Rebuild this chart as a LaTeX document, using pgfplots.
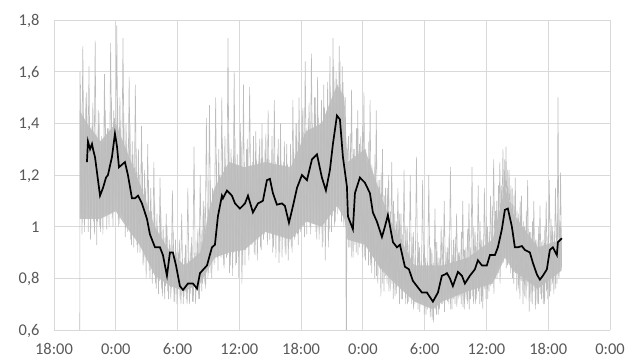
\documentclass[border=0pt]{standalone}
\usepackage{pgfplots}
\pgfplotsset{compat=1.18}
\usepackage{fontspec}
\setmainfont{Carlito}
\definecolor{gridc}{HTML}{D9D9D9}
\definecolor{labc}{HTML}{595959}
\definecolor{rawc}{HTML}{BDBDBD}
\definecolor{bandc}{HTML}{C4C4C4}
\begin{document}
\begin{tikzpicture}
\useasboundingbox (-54bp,-28bp) rectangle (581bp,330bp);
\begin{axis}[
  scale only axis,
  width=556bp, height=310bp,
  xmin=0, xmax=54, ymin=0.6, ymax=1.8,
  xtick={0,6,...,54},
  xticklabels={18:00,0:00,6:00,12:00,18:00,0:00,6:00,12:00,18:00,0:00},
  ytick={0.6,0.8,1.0,1.2,1.4,1.6,1.8},
  /pgf/number format/use comma,
  /pgf/number format/assume math mode=true,
  grid=major,
  major grid style={gridc, line width=0.8pt},
  axis line style={draw=none},
  tick style={draw=none},
  tick label style={font=\fontsize{16.5}{16.5}\selectfont, text=labc},
  xticklabel style={yshift=-10bp},
  yticklabel style={xshift=-11bp, yshift=-1bp},
]
% bottom axis line
\addplot[gridc, line width=0.9pt, forget plot] coordinates {(0,0.6) (54,0.6)};
% dense core of the raw series (upper edge forward, lower edge back)
\addplot[fill=bandc, draw=none, forget plot] coordinates {
(2.5,1.45) (3.2,1.40) (4.5,1.33) (6.0,1.40) (7.0,1.30) (8.3,1.17) (9.8,1.00)
(11.3,0.90) (12.7,0.85) (14.2,0.90) (15.6,1.15) (17.0,1.25) (18.5,1.23)
(20.5,1.25) (23.0,1.23) (24.5,1.37) (26.0,1.40) (27.5,1.55) (28.2,1.50)
(28.5,1.25) (30.2,1.30) (31.5,1.15) (32.6,1.03) (35.0,0.85) (36.8,0.85) (37.7,0.85)
(40.2,0.88) (42.6,0.95) (43.8,1.15) (44.6,1.05) (47.0,0.92) (49.3,0.95)
(49.3,0.83) (47.0,0.76) (44.6,0.83) (43.8,0.88) (42.6,0.78) (40.2,0.75)
(37.7,0.71) (36.8,0.68) (35.0,0.71) (32.6,0.80) (31.5,0.85) (30.2,0.93) (28.5,0.95)
(28.2,1.03) (27.5,1.08) (26.0,1.00) (24.5,1.02) (23.0,0.95) (20.5,0.98)
(18.5,0.91) (17.0,0.90) (15.6,0.88) (14.2,0.78) (12.7,0.75) (11.3,0.77)
(9.8,0.81) (8.3,0.93) (7.0,1.00) (6.0,1.06) (4.5,1.03) (3.2,1.03) (2.5,1.03)};
% raw series, medium swings
\addplot[rawc, line width=0.6pt, forget plot] coordinates {
(2.575,1.55) (2.725,0.97) (2.875,1.44) (3.025,1.03) (3.175,1.52) (3.325,0.98) (3.475,1.40) (3.625,1.04)
(3.775,1.48) (3.925,0.97) (4.075,1.36) (4.225,1.02) (4.375,1.44) (4.525,0.98) (4.675,1.33) (4.825,1.04)
(4.975,1.45) (5.125,0.99) (5.275,1.38) (5.425,1.05) (5.575,1.50) (5.725,1.00) (5.875,1.42) (6.025,1.06)
(6.175,1.50) (6.325,1.01) (6.475,1.38) (6.625,1.04) (6.775,1.44) (6.925,0.96) (7.075,1.32) (7.225,1.00)
(7.375,1.40) (7.525,0.93) (7.675,1.28) (7.825,0.96) (7.975,1.30) (8.125,0.90) (8.275,1.20) (8.425,0.92)
(8.575,1.25) (8.725,0.86) (8.875,1.15) (9.025,0.87) (9.175,1.18) (9.325,0.80) (9.475,1.06) (9.625,0.82)
(9.775,1.10) (9.925,0.76) (10.075,1.00) (10.225,0.79) (10.375,1.06) (10.525,0.73) (10.675,0.96) (10.825,0.77)
(10.975,1.00) (11.125,0.72) (11.275,0.93) (11.425,0.76) (11.575,0.98) (11.725,0.71) (11.875,0.90) (12.025,0.74)
(12.175,0.95) (12.325,0.70) (12.475,0.87) (12.625,0.73) (12.775,0.93) (12.925,0.70) (13.075,0.88) (13.225,0.74)
(13.375,0.96) (13.525,0.71) (13.675,0.90) (13.825,0.75) (13.975,0.99) (14.125,0.72) (14.275,0.97) (14.425,0.78)
(14.575,1.08) (14.725,0.76) (14.875,1.04) (15.025,0.82) (15.175,1.18) (15.325,0.80) (15.475,1.14) (15.625,0.86)
(15.775,1.26) (15.925,0.83) (16.075,1.20) (16.225,0.88) (16.375,1.32) (16.525,0.84) (16.675,1.24) (16.825,0.89)
(16.975,1.36) (17.125,0.85) (17.275,1.26) (17.425,0.90) (17.575,1.34) (17.725,0.86) (17.875,1.24) (18.025,0.90)
(18.175,1.33) (18.325,0.85) (18.475,1.25) (18.625,0.91) (18.775,1.34) (18.925,0.87) (19.075,1.24) (19.225,0.93)
(19.375,1.35) (19.525,0.89) (19.675,1.26) (19.825,0.95) (19.975,1.34) (20.125,0.91) (20.275,1.27) (20.425,0.97)
(20.575,1.36) (20.725,0.93) (20.875,1.26) (21.025,0.98) (21.175,1.35) (21.325,0.92) (21.475,1.25) (21.625,0.97)
(21.775,1.34) (21.925,0.90) (22.075,1.24) (22.225,0.95) (22.375,1.33) (22.525,0.89) (22.675,1.24) (22.825,0.94)
(22.975,1.32) (23.125,0.90) (23.275,1.30) (23.425,0.96) (23.575,1.40) (23.725,0.93) (23.875,1.34) (24.025,0.99)
(24.175,1.46) (24.325,0.96) (24.475,1.38) (24.625,1.02) (24.775,1.48) (24.925,0.97) (25.075,1.40) (25.225,1.01)
(25.375,1.50) (25.525,0.95) (25.675,1.42) (25.825,0.99) (25.975,1.49) (26.125,0.94) (26.275,1.46) (26.425,1.00)
(26.575,1.56) (26.725,0.98) (26.875,1.52) (27.025,1.04) (27.175,1.62) (27.325,1.02) (27.475,1.57) (27.625,1.08)
(27.775,1.64) (27.925,1.02) (28.075,1.56) (28.225,1.03) (28.475,1.30) (28.625,0.92) (28.775,1.36) (28.925,0.88)
(29.075,1.30) (29.225,0.93) (29.375,1.38) (29.525,0.89) (29.675,1.32) (29.825,0.94) (29.975,1.39) (30.125,0.88)
(30.275,1.30) (30.425,0.92) (30.575,1.33) (30.725,0.85) (30.875,1.24) (31.025,0.88) (31.175,1.28) (31.325,0.81)
(31.475,1.18) (31.625,0.84) (31.775,1.21) (31.925,0.78) (32.075,1.12) (32.225,0.81) (32.375,1.15) (32.525,0.75)
(32.675,1.06) (32.825,0.78) (32.975,1.10) (33.125,0.73) (33.275,1.02) (33.425,0.77) (33.575,1.05) (33.725,0.72)
(33.875,0.97) (34.025,0.75) (34.175,1.00) (34.325,0.70) (34.475,0.93) (34.625,0.73) (34.775,0.96) (34.925,0.68)
(35.075,0.89) (35.225,0.71) (35.375,0.94) (35.525,0.67) (35.675,0.87) (35.825,0.70) (35.975,0.93) (36.125,0.66)
(36.275,0.86) (36.425,0.69) (36.575,0.92) (36.725,0.64) (36.875,0.86) (37.025,0.68) (37.175,0.94) (37.325,0.66)
(37.475,0.88) (37.625,0.70) (37.775,0.96) (37.925,0.67) (38.075,0.90) (38.225,0.71) (38.375,0.97) (38.525,0.68)
(38.675,0.89) (38.825,0.72) (38.975,0.96) (39.125,0.69) (39.275,0.90) (39.425,0.73) (39.575,0.98) (39.725,0.69)
(39.875,0.91) (40.025,0.72) (40.175,0.99) (40.325,0.68) (40.475,0.92) (40.625,0.73) (40.775,1.00) (40.925,0.70)
(41.075,0.94) (41.225,0.75) (41.375,1.02) (41.525,0.71) (41.675,0.95) (41.825,0.76) (41.975,1.04) (42.125,0.72)
(42.275,0.98) (42.425,0.77) (42.575,1.08) (42.725,0.74) (42.875,1.06) (43.025,0.80) (43.175,1.16) (43.325,0.78)
(43.475,1.16) (43.625,0.86) (43.775,1.26) (43.925,0.84) (44.075,1.22) (44.225,0.87) (44.375,1.16) (44.525,0.80)
(44.675,1.12) (44.825,0.82) (44.975,1.06) (45.125,0.76) (45.275,1.10) (45.425,0.79) (45.575,1.02) (45.725,0.73)
(45.875,1.06) (46.025,0.77) (46.175,0.98) (46.325,0.71) (46.475,1.02) (46.625,0.75) (46.775,0.95) (46.925,0.70)
(47.075,1.00) (47.225,0.74) (47.375,0.94) (47.525,0.70) (47.675,1.00) (47.825,0.75) (47.975,0.96) (48.125,0.73)
(48.275,1.03) (48.425,0.78) (48.575,0.98) (48.725,0.76) (48.875,1.05) (49.025,0.81) (49.175,1.02) (49.300,0.84)
};
% raw series, large swings and spikes
\addplot[rawc, line width=0.6pt] coordinates {
(2.50,0.30) (2.52,1.60) (2.65,1.05)
(2.80,1.70) (2.95,0.98) (3.10,1.50) (3.25,1.10)
(3.40,1.62) (3.55,0.95) (3.70,1.40) (3.85,1.02) (4.00,1.72) (4.15,0.93) (4.30,1.45) (4.45,1.00)
(4.60,1.35) (4.75,0.97) (4.90,1.59) (5.05,1.05) (5.20,1.38) (5.35,1.00) (5.50,1.71) (5.65,1.03) (5.80,1.45) (5.95,1.08)
(6.10,1.78) (6.25,1.00) (6.40,1.50) (6.55,1.05) (6.70,1.73) (6.85,1.02)
(7.00,1.40) (7.15,0.98) (7.30,1.58) (7.45,0.95) (7.60,1.33) (7.75,0.92) (7.90,1.55) (8.05,0.93) (8.20,1.30) (8.35,0.90)
(8.50,1.39) (8.65,0.85) (8.80,1.22) (8.95,0.80) (9.10,1.32) (9.25,0.83) (9.40,1.15) (9.55,0.78) (9.70,1.25) (9.85,0.78)
(10.00,1.05) (10.15,0.74) (10.30,1.19) (10.45,0.76) (10.60,1.00) (10.75,0.72) (10.90,1.05) (11.05,0.75) (11.20,0.95) (11.35,0.72)
(11.50,1.14) (11.65,0.71) (11.80,0.95) (11.95,0.70) (12.10,0.90) (12.25,0.72) (12.40,1.05) (12.55,0.70) (12.70,0.88) (12.85,0.72)
(13.00,1.15) (13.15,0.70) (13.30,0.92) (13.45,0.71) (13.60,1.31) (13.75,0.70) (13.90,0.95) (14.05,0.72)
(14.20,1.20) (14.35,0.75) (14.50,1.10) (14.65,0.78) (14.80,1.42) (14.95,0.80) (15.10,1.47) (15.25,0.82) (15.40,1.15) (15.55,0.85)
(15.70,1.50) (15.85,0.88) (16.00,1.30) (16.15,0.90) (16.30,1.50) (16.45,0.85) (16.60,1.35) (16.75,0.88) (16.90,1.73) (17.05,0.82)
(17.20,1.30) (17.35,0.81) (17.50,1.60) (17.65,0.85) (17.80,1.28) (17.95,0.80) (18.10,1.40) (18.25,0.78) (18.40,1.55) (18.55,0.85)
(18.70,1.30) (18.85,0.92) (19.00,1.54) (19.15,0.95) (19.30,1.25) (19.45,0.90) (19.60,1.37) (19.75,0.87) (19.90,1.28) (20.05,0.92) (20.20,1.40) (20.35,0.95)
(20.50,1.30) (20.65,0.98) (20.80,1.45) (20.95,0.95) (21.10,1.25) (21.25,0.90) (21.40,1.49) (21.55,0.88) (21.70,1.28) (21.85,0.86)
(22.00,1.40) (22.15,0.88) (22.30,1.25) (22.45,0.90) (22.60,1.32) (22.75,0.87) (22.90,1.20) (23.05,0.92)
(23.20,1.49) (23.35,0.95) (23.50,1.40) (23.65,0.97) (23.80,1.50) (23.95,0.98) (24.10,1.45) (24.25,1.00) (24.40,1.64) (24.55,0.97)
(24.70,1.42) (24.85,1.00) (25.00,1.67) (25.15,1.02) (25.30,1.50) (25.45,0.98) (25.60,1.58) (25.75,0.95) (25.90,1.40) (26.05,0.92)
(26.20,1.55) (26.35,0.87) (26.50,1.45) (26.65,0.92) (26.80,1.66) (26.95,0.98) (27.10,1.73) (27.25,1.00) (27.40,1.60) (27.55,1.05)
(27.70,1.70) (27.85,1.08) (28.00,1.62) (28.15,1.00) (28.30,1.50) (28.40,0.30) (28.45,1.24)
(28.60,1.35) (28.75,0.92) (28.90,1.53) (29.05,0.88) (29.20,1.30) (29.35,0.90) (29.50,1.45) (29.65,0.92) (29.80,1.35) (29.95,0.88) (30.10,1.52) (30.25,0.87)
(30.40,1.25) (30.55,0.85) (30.70,1.49) (30.85,0.82) (31.00,1.20) (31.15,0.80) (31.30,1.45) (31.45,0.78) (31.60,1.18) (31.75,0.73)
(31.90,1.30) (32.05,0.75) (32.20,1.15) (32.35,0.78) (32.50,1.20) (32.65,0.75)
(32.80,1.25) (32.95,0.72) (33.10,1.05) (33.25,0.74) (33.40,1.15) (33.55,0.70) (33.70,1.05) (33.85,0.72) (34.00,1.22) (34.15,0.70)
(34.30,1.00) (34.45,0.71) (34.60,1.20) (34.75,0.70) (34.90,0.98) (35.05,0.70)
(35.20,1.27) (35.35,0.68) (35.50,0.92) (35.65,0.70) (35.80,1.18) (35.95,0.66) (36.10,0.88) (36.25,0.68) (36.40,1.20) (36.55,0.65)
(36.70,0.91) (36.85,0.63) (37.00,1.07) (37.15,0.66) (37.30,0.88) (37.45,0.68) (37.60,1.00) (37.75,0.70)
(37.90,1.10) (38.05,0.72) (38.20,0.92) (38.35,0.70) (38.50,1.23) (38.65,0.68) (38.80,0.95) (38.95,0.70) (39.10,1.05) (39.25,0.72)
(39.40,0.90) (39.55,0.70) (39.70,1.10) (39.85,0.68) (40.00,0.92) (40.15,0.70)
(40.30,1.09) (40.45,0.72) (40.60,1.23) (40.75,0.70) (40.90,0.98) (41.05,0.72) (41.20,1.16) (41.35,0.70) (41.50,0.95) (41.65,0.68)
(41.80,1.15) (41.95,0.72) (42.10,1.00) (42.25,0.75) (42.40,1.12) (42.55,0.78)
(42.70,1.26) (42.85,0.80) (43.00,1.10) (43.15,0.82) (43.30,1.25) (43.45,0.85) (43.60,1.30) (43.75,0.88) (43.90,1.31) (44.05,0.85)
(44.20,1.22) (44.35,0.82) (44.50,1.15) (44.65,0.78)
(44.80,1.19) (44.95,0.75) (45.10,1.05) (45.25,0.72) (45.40,1.12) (45.55,0.70) (45.70,1.00) (45.85,0.72) (46.00,1.18) (46.15,0.67)
(46.30,0.98) (46.45,0.70) (46.60,1.10) (46.75,0.68) (46.90,0.95) (47.05,0.70)
(47.20,1.08) (47.35,0.72) (47.50,0.95) (47.65,0.70) (47.80,1.10) (47.95,0.72) (48.10,1.18) (48.25,0.75) (48.40,1.00) (48.55,0.74)
(48.70,1.15) (48.85,0.78) (48.95,1.50) (49.05,0.80) (49.20,1.21) (49.30,0.85)
};
% smoothed series
\addplot[black, line width=1.7pt] coordinates {
(3.20,1.25) (3.30,1.33) (3.50,1.30) (3.69,1.32) (3.79,1.30) (3.98,1.27) (4.47,1.12) (4.76,1.15)
(5.05,1.19) (5.24,1.20) (5.63,1.27) (5.92,1.36) (6.12,1.31) (6.31,1.23) (6.60,1.24) (6.89,1.25)
(7.18,1.20) (7.57,1.11) (7.87,1.11) (8.16,1.12) (8.54,1.09) (9.03,1.03) (9.32,0.97) (9.81,0.92)
(10.29,0.92) (10.58,0.89) (10.97,0.81) (11.26,0.90) (11.55,0.90) (11.85,0.85) (12.23,0.77)
(12.53,0.755) (13.01,0.78) (13.50,0.78) (13.89,0.76) (14.18,0.82) (14.86,0.85) (15.34,0.92)
(15.63,0.93) (15.92,1.04) (16.31,1.12) (16.41,1.11) (16.80,1.14) (17.28,1.12) (17.58,1.09)
(18.06,1.07) (18.55,1.09) (18.84,1.12) (19.32,1.055) (19.81,1.09) (20.29,1.10) (20.68,1.18)
(20.97,1.185) (21.26,1.13) (21.65,1.085) (22.14,1.09) (22.43,1.08) (22.82,1.015) (23.21,1.08)
(23.60,1.15) (24.08,1.20) (24.57,1.18) (25.05,1.26) (25.54,1.28) (26.02,1.19) (26.41,1.14)
(26.80,1.22) (27.09,1.32) (27.48,1.43) (27.77,1.415) (28.06,1.27) (28.45,1.155) (28.55,1.04)
(29.03,0.99) (29.23,1.13) (29.71,1.19) (30.20,1.17) (30.68,1.13) (30.97,1.055) (31.36,1.02)
(31.85,0.96) (32.14,1.00) (32.43,1.045) (32.92,0.94) (33.31,0.92) (33.60,0.93) (34.08,0.845)
(34.47,0.835) (34.86,0.79) (35.05,0.78) (35.73,0.745) (36.22,0.745) (36.80,0.71) (37.29,0.745)
(37.67,0.81) (37.97,0.815) (38.16,0.82) (38.45,0.80) (38.74,0.77) (39.23,0.825) (39.62,0.81)
(39.91,0.78) (40.39,0.81) (40.88,0.835) (41.17,0.87) (41.56,0.85) (42.04,0.85) (42.34,0.89)
(42.82,0.89) (43.11,0.92) (43.50,0.99) (43.79,1.065) (44.08,1.07) (44.47,1.00) (44.76,0.92)
(45.05,0.92) (45.44,0.925) (45.73,0.91) (46.22,0.90) (46.51,0.86) (46.90,0.815) (47.19,0.795)
(47.48,0.81) (47.87,0.835) (48.16,0.91) (48.45,0.92) (48.84,0.89) (48.94,0.94) (49.33,0.955)
};
\end{axis}
\end{tikzpicture}
\end{document}
